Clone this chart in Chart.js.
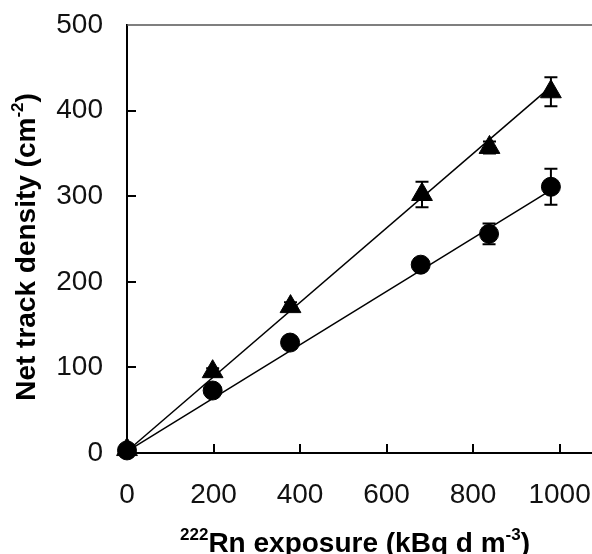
<!DOCTYPE html>
<html>
<head>
<meta charset="utf-8">
<script src="https://cdn.jsdelivr.net/npm/chart.js@4/dist/chart.umd.min.js"></script>
<style>
  body { margin: 0; background: #fff; }
  #wrap { width: 592px; height: 554px; position: relative; }
</style>
</head>
<body>
<div id="wrap"><canvas id="track-chart" width="592" height="554"></canvas></div>
<script>
// exposure (kBq d m-3) and net track density (cm-2)
const exposureTri = [0, 198, 378, 682, 838, 980];
const densityTri = [4, 95, 171, 302, 357, 422];
const errorTri = [0, 4, 5, 15, 7, 17];

const exposureCirc = [0, 198, 377, 679, 837, 980];
const densityCirc = [3, 73, 129, 220, 256, 311];
const errorCirc = [0, 7, 5, 4, 12, 21];

// fitted lines, end points
const fitTriX = [0, 980];
const fitTriY = [2, 428];
const fitCircX = [0, 980];
const fitCircY = [2, 307];

const xTicks = [0, 200, 400, 600, 800, 1000];
const yTicks = [0, 100, 200, 300, 400, 500];

const xTitleRuns = [["222", true], ["Rn exposure (kBq d m", false], ["-3", true], [")", false]];
const yTitleRuns = [["Net track density (cm", false], ["-2", true], [")", false]];

const FONT = "'Liberation Sans', Arial, sans-serif";

function toPoints(xs, ys) {
  return xs.map((x, i) => ({ x: x, y: ys[i] }));
}

// vertical error bars with caps, drawn under the markers
const errorBars = {
  id: "errorBars",
  beforeDatasetsDraw(chart) {
    const ctx = chart.ctx;
    const xs = chart.scales.x, ys = chart.scales.y;
    const sets = [[exposureTri, densityTri, errorTri], [exposureCirc, densityCirc, errorCirc]];
    ctx.save();
    ctx.strokeStyle = "#000";
    ctx.lineWidth = 2;
    sets.forEach(([ex, dy, er]) => {
      ex.forEach((x, i) => {
        if (!er[i]) return;
        const px = xs.getPixelForValue(x);
        const top = ys.getPixelForValue(dy[i] + er[i]);
        const bot = ys.getPixelForValue(dy[i] - er[i]);
        ctx.beginPath();
        ctx.moveTo(px, top); ctx.lineTo(px, bot);
        ctx.moveTo(px - 6.5, top); ctx.lineTo(px + 6.5, top);
        ctx.moveTo(px - 6.5, bot); ctx.lineTo(px + 6.5, bot);
        ctx.stroke();
      });
    });
    ctx.restore();
  }
};

function drawRuns(ctx, runs, size, supSize, supRise) {
  const widths = runs.map(([t, sup]) => {
    ctx.font = "bold " + (sup ? supSize : size) + "px " + FONT;
    return ctx.measureText(t).width;
  });
  const total = widths.reduce((a, b) => a + b, 0);
  let x = -total / 2;
  runs.forEach(([t, sup], i) => {
    ctx.font = "bold " + (sup ? supSize : size) + "px " + FONT;
    ctx.fillText(t, x, sup ? -supRise : 0);
    x += widths[i];
  });
}

// inward ticks, top frame line and axis titles
const frame = {
  id: "frame",
  afterDraw(chart) {
    const ctx = chart.ctx;
    const a = chart.chartArea;
    const xs = chart.scales.x, ys = chart.scales.y;
    ctx.save();
    ctx.strokeStyle = "#000";
    ctx.lineWidth = 2;
    ctx.beginPath();
    yTicks.slice(1, -1).forEach(v => {
      const py = Math.round(ys.getPixelForValue(v));
      ctx.moveTo(a.left, py); ctx.lineTo(a.left + 9, py);
    });
    xTicks.slice(1).forEach(v => {
      const px = Math.round(xs.getPixelForValue(v));
      ctx.moveTo(px, a.bottom); ctx.lineTo(px, a.bottom - 9);
    });
    ctx.stroke();

    ctx.strokeStyle = "#555";
    ctx.lineWidth = 1.5;
    ctx.beginPath();
    ctx.moveTo(a.left, a.top); ctx.lineTo(chart.width, a.top);
    ctx.stroke();

    ctx.fillStyle = "#000";
    ctx.textBaseline = "alphabetic";
    ctx.textAlign = "left";
    ctx.save();
    ctx.translate(355, 552);
    drawRuns(ctx, xTitleRuns, 28, 17, 12);
    ctx.restore();

    ctx.save();
    ctx.translate(35, 247);
    ctx.rotate(-Math.PI / 2);
    drawRuns(ctx, yTitleRuns, 28, 17, 12);
    ctx.restore();
    ctx.restore();
  }
};

const ctx = document.getElementById("track-chart").getContext("2d");
new Chart(ctx, {
  type: "scatter",
  data: {
    datasets: [
      {
        data: toPoints(exposureTri, densityTri),
        pointStyle: "triangle",
        pointRadius: 12,
        backgroundColor: "#000",
        borderColor: "#000",
        borderWidth: 1,
        clip: false
      },
      {
        data: toPoints(exposureCirc, densityCirc),
        pointStyle: "circle",
        pointRadius: 9.5,
        backgroundColor: "#000",
        borderColor: "#000",
        borderWidth: 1,
        clip: false
      },
      {
        type: "line",
        data: toPoints(fitTriX, fitTriY),
        borderColor: "#000",
        borderWidth: 1.5,
        pointRadius: 0,
        clip: false
      },
      {
        type: "line",
        data: toPoints(fitCircX, fitCircY),
        borderColor: "#000",
        borderWidth: 1.5,
        pointRadius: 0,
        clip: false
      }
    ]
  },
  options: {
    responsive: false,
    animation: false,
    layout: { autoPadding: false, padding: { top: 25, right: 0, left: 0, bottom: 0 } },
    plugins: { legend: { display: false }, tooltip: { enabled: false } },
    scales: {
      x: {
        type: "linear",
        min: 0,
        max: 1075,
        afterFit(scale) {
          scale.height = 101;
          scale.paddingLeft = 0;
          scale.paddingRight = 0;
        },
        afterBuildTicks(scale) { scale.ticks = xTicks.map(v => ({ value: v })); },
        grid: { display: false, drawTicks: false },
        border: { display: true, color: "#000", width: 2 },
        ticks: {
          font: { family: FONT, size: 28 },
          color: "#111",
          padding: 25,
          maxRotation: 0,
          callback: v => String(v)
        }
      },
      y: {
        min: 0,
        max: 500,
        afterFit(scale) {
          scale.width = 127;
          scale.paddingTop = 0;
          scale.paddingBottom = 0;
        },
        afterBuildTicks(scale) { scale.ticks = yTicks.map(v => ({ value: v })); },
        grid: { display: false, drawTicks: false },
        border: { display: true, color: "#000", width: 2 },
        ticks: {
          font: { family: FONT, size: 28 },
          color: "#111",
          padding: 24,
          callback: v => String(v)
        }
      }
    }
  },
  plugins: [errorBars, frame]
});
</script>
</body>
</html>
